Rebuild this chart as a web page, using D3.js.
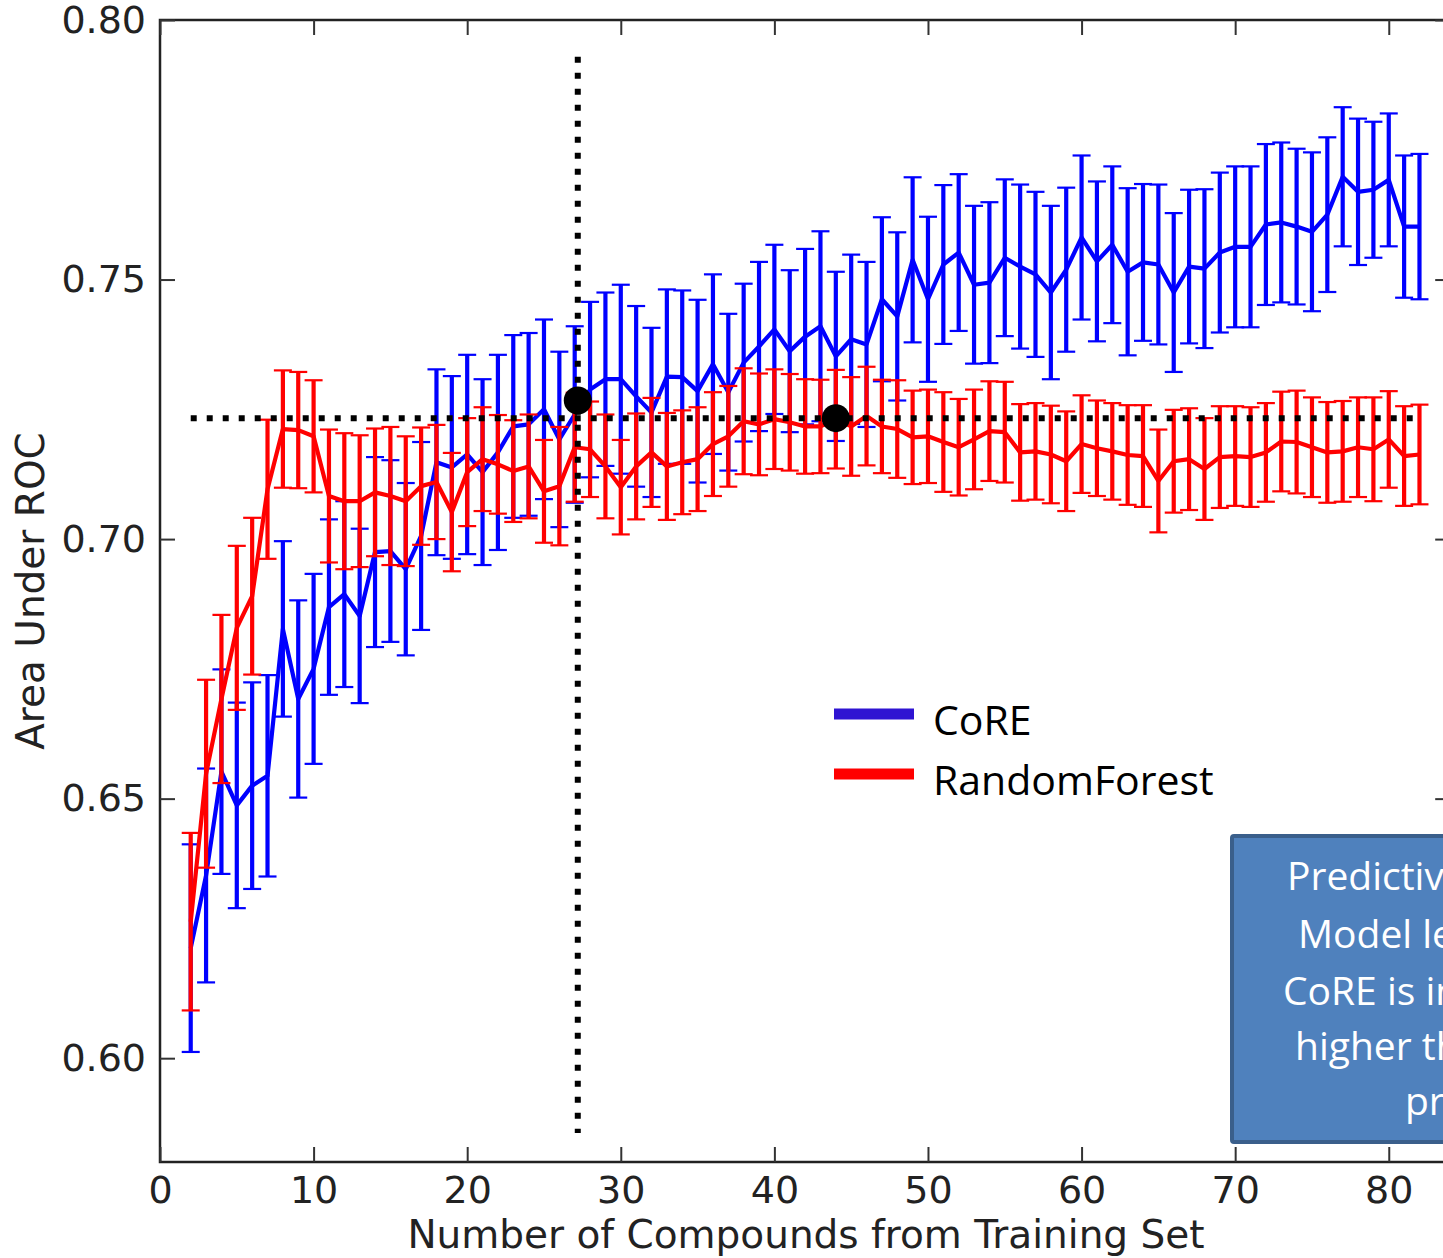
<!DOCTYPE html>
<html>
<head>
<meta charset="utf-8">
<script src="https://cdn.jsdelivr.net/npm/d3@7"></script>
<style>
  html, body { margin: 0; padding: 0; background: #fff; overflow: hidden; }
  svg { display: block; }
</style>
</head>
<body>
<svg id="chart" width="1443" height="1258"></svg>
<script>
// ---------------- data ----------------
const xValues = [2,3,4,5,6,7,8,9,10,11,12,13,14,15,16,17,18,19,20,21,22,23,24,25,26,27,28,29,30,31,
  32,33,34,35,36,37,38,39,40,41,42,43,44,45,46,47,48,49,50,51,52,53,54,55,56,57,58,59,60,61,
  62,63,64,65,66,67,68,69,70,71,72,73,74,75,76,77,78,79,80,81,82];

const coreMean = [
  0.6212, 0.6352, 0.6552, 0.6487, 0.6525, 0.6544, 0.6827, 0.6692, 0.6750, 0.6869,
  0.6894, 0.6852, 0.6975, 0.6977, 0.6942, 0.7006, 0.7148, 0.7138, 0.7163, 0.7129,
  0.7167, 0.7217, 0.7221, 0.7250, 0.7192, 0.7240, 0.7288, 0.7308, 0.7308, 0.7275,
  0.7244, 0.7313, 0.7312, 0.7285, 0.7337, 0.7283, 0.7340, 0.7371, 0.7404, 0.7362,
  0.7390, 0.7410, 0.7352, 0.7385, 0.7375, 0.7462, 0.7429, 0.7538, 0.7462, 0.7529,
  0.7552, 0.7490, 0.7494, 0.7542, 0.7525, 0.7510, 0.7475, 0.7519, 0.7581, 0.7535,
  0.7567, 0.7515, 0.7533, 0.7529, 0.7475, 0.7525, 0.7521, 0.7552, 0.7563, 0.7563,
  0.7606, 0.7610, 0.7602, 0.7592, 0.7625, 0.7698, 0.7669, 0.7673, 0.7692, 0.7602, 0.7602
];
const coreErr = [
  0.0200, 0.0206, 0.0197, 0.0198, 0.0199, 0.0194, 0.0169, 0.0190, 0.0183, 0.0169,
  0.0179, 0.0168, 0.0183, 0.0175, 0.0166, 0.0181, 0.0179, 0.0176, 0.0192, 0.0179,
  0.0188, 0.0176, 0.0176, 0.0173, 0.0169, 0.0170, 0.0169, 0.0167, 0.0182, 0.0174,
  0.0163, 0.0168, 0.0167, 0.0176, 0.0173, 0.0151, 0.0152, 0.0163, 0.0163, 0.0156,
  0.0169, 0.0183, 0.0163, 0.0163, 0.0159, 0.0158, 0.0162, 0.0159, 0.0159, 0.0153,
  0.0151, 0.0152, 0.0155, 0.0151, 0.0158, 0.0159, 0.0167, 0.0158, 0.0158, 0.0154,
  0.0151, 0.0161, 0.0151, 0.0154, 0.0153, 0.0148, 0.0153, 0.0154, 0.0155, 0.0155,
  0.0155, 0.0154, 0.0150, 0.0153, 0.0149, 0.0134, 0.0141, 0.0131, 0.0128, 0.0137, 0.0140
];
const rfMean = [
  0.6263, 0.6548, 0.6692, 0.6829, 0.6890, 0.7096, 0.7212, 0.7210, 0.7198, 0.7083,
  0.7073, 0.7073, 0.7090, 0.7083, 0.7073, 0.7102, 0.7110, 0.7052, 0.7129, 0.7154,
  0.7144, 0.7131, 0.7140, 0.7092, 0.7102, 0.7177, 0.7173, 0.7140, 0.7100, 0.7140,
  0.7167, 0.7140, 0.7148, 0.7154, 0.7183, 0.7198, 0.7227, 0.7221, 0.7231, 0.7225,
  0.7217, 0.7217, 0.7231, 0.7217, 0.7237, 0.7217, 0.7212, 0.7196, 0.7198, 0.7187,
  0.7177, 0.7192, 0.7208, 0.7206, 0.7167, 0.7169, 0.7163, 0.7150, 0.7183, 0.7175,
  0.7169, 0.7162, 0.7160, 0.7112, 0.7150, 0.7154, 0.7135, 0.7158, 0.7160, 0.7158,
  0.7167, 0.7188, 0.7187, 0.7177, 0.7167, 0.7169, 0.7177, 0.7173, 0.7192, 0.7160, 0.7163
];
const rfErr = [
  0.0171, 0.0181, 0.0162, 0.0158, 0.0151, 0.0134, 0.0113, 0.0112, 0.0108, 0.0128,
  0.0131, 0.0127, 0.0123, 0.0133, 0.0125, 0.0113, 0.0110, 0.0114, 0.0104, 0.0100,
  0.0095, 0.0098, 0.0100, 0.0099, 0.0114, 0.0105, 0.0092, 0.0100, 0.0091, 0.0102,
  0.0105, 0.0103, 0.0100, 0.0100, 0.0100, 0.0097, 0.0102, 0.0098, 0.0096, 0.0093,
  0.0091, 0.0090, 0.0095, 0.0095, 0.0095, 0.0090, 0.0094, 0.0090, 0.0090, 0.0096,
  0.0093, 0.0096, 0.0096, 0.0097, 0.0093, 0.0093, 0.0094, 0.0096, 0.0094, 0.0092,
  0.0093, 0.0096, 0.0098, 0.0099, 0.0099, 0.0098, 0.0098, 0.0098, 0.0096, 0.0096,
  0.0095, 0.0096, 0.0099, 0.0096, 0.0097, 0.0097, 0.0096, 0.0100, 0.0093, 0.0096, 0.0096
];

const xTicks = [0, 10, 20, 30, 40, 50, 60, 70, 80];
const yTicks = [0.60, 0.65, 0.70, 0.75, 0.80];
const xDomain = [0, 84];
const yDomain = [0.58, 0.80];

// annotation values (data units)
const refLevel = 0.7233;          // horizontal dotted line
const refLineX = [2, 81.7];
const vLineX = 27.2;              // vertical dotted line
const vLineY = [0.5856, 0.7929];
const markers = [{x: 27.2, y: 0.7267}, {x: 44, y: 0.7233}];

const legendItems = [
  {label: "CoRE", color: "#2f14d2"},
  {label: "RandomForest", color: "#ff0000"}
];
const noteLines = ["Predictive power of", "Model learned by", "CoRE is increasingly", "higher than the", "prior"];

// ---------------- drawing ----------------
const svg = d3.select("#chart");
svg.append("rect").attr("width", 1443).attr("height", 1258).attr("fill", "#fff");

const x = d3.scaleLinear().domain(xDomain).range([160, 1450.2]);
const y = d3.scaleLinear().domain(yDomain).range([1162, 20]);

const axisColor = "#222";
const tickFont = "DejaVu Sans, Verdana, sans-serif";

// series
function drawSeries(mean, err, color) {
  const g = svg.append("g");
  const pts = xValues.map((xv, i) => ({x: xv, m: mean[i], e: err[i]}));
  const line = d3.line().x(d => x(d.x)).y(d => y(d.m));
  g.append("path").datum(pts).attr("d", line)
    .attr("fill", "none").attr("stroke", color).attr("stroke-width", 4.2)
    .attr("stroke-linejoin", "round");
  g.selectAll("line.bar").data(pts).enter().append("line")
    .attr("x1", d => x(d.x)).attr("x2", d => x(d.x))
    .attr("y1", d => y(d.m - d.e)).attr("y2", d => y(d.m + d.e))
    .attr("stroke", color).attr("stroke-width", 4.2);
  ["lo", "hi"].forEach(k => {
    g.selectAll("line.cap" + k).data(pts).enter().append("line")
      .attr("x1", d => x(d.x) - 9).attr("x2", d => x(d.x) + 9)
      .attr("y1", d => y(k === "lo" ? d.m - d.e : d.m + d.e))
      .attr("y2", d => y(k === "lo" ? d.m - d.e : d.m + d.e))
      .attr("stroke", color).attr("stroke-width", 2.2);
  });
}
drawSeries(coreMean, coreErr, "#0000ff");
drawSeries(rfMean, rfErr, "#ff0000");

// axes frame
const frame = svg.append("g");
frame.append("rect").attr("x", x(xDomain[0])).attr("y", y(yDomain[1]))
  .attr("width", x(xDomain[1]) - x(xDomain[0])).attr("height", y(yDomain[0]) - y(yDomain[1]))
  .attr("fill", "none").attr("stroke", axisColor).attr("stroke-width", 2.5);

// axes with inward ticks
const xAxisB = d3.axisBottom(x).tickValues(xTicks).tickSize(-15).tickPadding(14).tickFormat(d3.format("d"));
const gxB = svg.append("g").attr("transform", `translate(0,${y(yDomain[0])})`).call(xAxisB);
const xAxisT = d3.axisTop(x).tickValues(xTicks).tickSize(-15).tickFormat("");
const gxT = svg.append("g").attr("transform", `translate(0,${y(yDomain[1])})`).call(xAxisT);
const yAxisL = d3.axisLeft(y).tickValues(yTicks).tickSize(-15).tickPadding(14).tickFormat(d3.format(".2f"));
const gyL = svg.append("g").attr("transform", `translate(${x(xDomain[0])},0)`).call(yAxisL);
const yAxisR = d3.axisRight(y).tickValues(yTicks).tickSize(-15).tickFormat("");
const gyR = svg.append("g").attr("transform", `translate(${x(xDomain[1])},0)`).call(yAxisR);
[gxB, gxT, gyL, gyR].forEach(g => {
  g.select(".domain").remove();
  g.selectAll(".tick line").attr("stroke", "#333").attr("stroke-width", 2);
  g.selectAll(".tick text").attr("fill", axisColor).attr("font-family", tickFont).attr("font-size", 38);
});
gxB.selectAll(".tick text").attr("dy", "0.72em");

// axis labels
svg.append("text").attr("x", 806).attr("y", 1248).attr("text-anchor", "middle")
  .attr("font-family", tickFont).attr("font-size", 39).attr("fill", axisColor)
  .text("Number of Compounds from Training Set");
svg.append("text").attr("transform", "translate(44,591) rotate(-90)").attr("text-anchor", "middle")
  .attr("font-family", tickFont).attr("font-size", 39).attr("fill", axisColor)
  .text("Area Under ROC");

// dotted reference lines
const ann = svg.append("g");
ann.append("line").attr("x1", x(refLineX[0])).attr("x2", x(refLineX[1]))
  .attr("y1", y(refLevel)).attr("y2", y(refLevel))
  .attr("stroke", "#000").attr("stroke-width", 6).attr("stroke-dasharray", "6,10");
ann.append("line").attr("x1", x(vLineX)).attr("x2", x(vLineX))
  .attr("y1", y(vLineY[1])).attr("y2", y(vLineY[0]))
  .attr("stroke", "#000").attr("stroke-width", 6).attr("stroke-dasharray", "6,10");
ann.selectAll("circle").data(markers).enter().append("circle")
  .attr("cx", d => x(d.x)).attr("cy", d => y(d.y)).attr("r", 14).attr("fill", "#000");

// legend
const legendFont = "Open Sans, Lato, sans-serif";
const lg = svg.append("g");
legendItems.forEach((it, i) => {
  const yy = 714 + i * 60;
  lg.append("line").attr("x1", 834).attr("x2", 914).attr("y1", yy).attr("y2", yy)
    .attr("stroke", it.color).attr("stroke-width", 11);
  lg.append("text").attr("x", 933).attr("y", yy + 21)
    .attr("font-family", legendFont).attr("font-size", 41).attr("fill", "#000")
    .text(it.label);
});

// note box (cropped at right edge)
const nb = svg.append("g");
nb.append("rect").attr("x", 1232).attr("y", 836).attr("width", 360).attr("height", 306)
  .attr("fill", "#4f81bd").attr("stroke", "#3a5f8b").attr("stroke-width", 4).attr("rx", 2);
const noteX = [1287, 1298, 1283, 1295, 1405];
const noteY = [890, 948, 1005, 1060, 1115];
noteLines.forEach((t, i) => {
  nb.append("text").attr("x", noteX[i]).attr("y", noteY[i])
    .attr("font-family", legendFont).attr("font-size", 39).attr("fill", "#fff").text(t);
});
</script>
</body>
</html>
